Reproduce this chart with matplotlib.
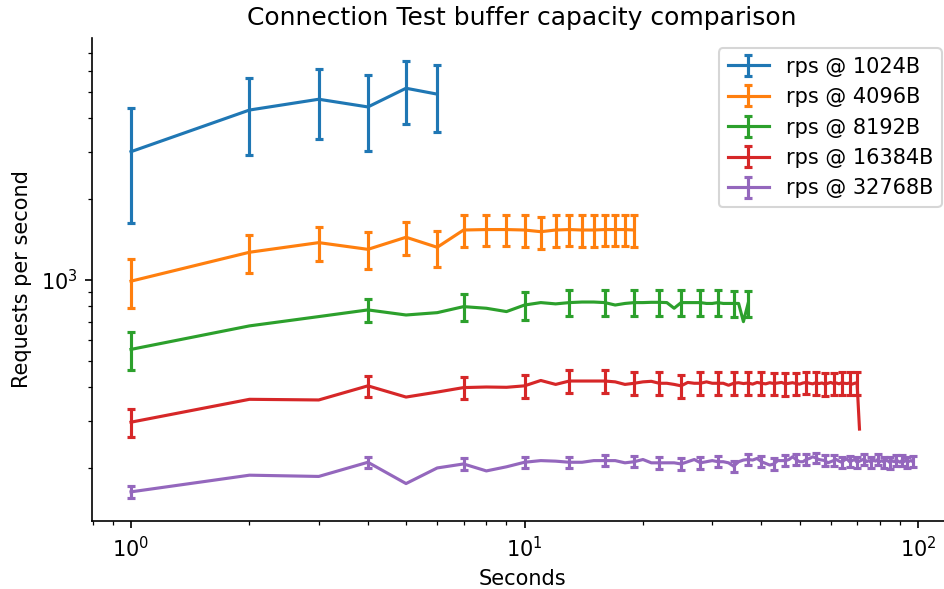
import matplotlib
matplotlib.use("Agg")
import matplotlib.pyplot as plt
import numpy as np

# ---- data ----
labels = ["rps @ 1024B", "rps @ 4096B", "rps @ 8192B", "rps @ 16384B", "rps @ 32768B"]

blue_y = [3000, 4285, 4700, 4400, 5164, 4910]
blue_err = [1375, 1370, 1370, 1370, 1365, 1365]

orange_y = [990, 1268, 1377, 1300, 1442, 1323, 1534, 1540, 1540, 1534, 1512, 1534,
            1540, 1534, 1534, 1540, 1540, 1540, 1534]
orange_err = [205, 203, 200, 202, 200, 203, 207, 207, 207, 207, 207, 207,
              207, 207, 207, 207, 207, 207, 207]

green_y = [552, 675, 731, 774, 741, 756, 796, 785, 763, 807, 824, 815, 824, 828,
           828, 824, 807, 818, 824, 824, 826, 826, 824, 785, 824, 824, 824, 824,
           818, 818, 824, 818, 818, 818, 818, 700, 818]
green_err = [90, 90, 90, 78, 90, 90, 90, 90, 90, 95, 92, 92, 92, 92, 92, 92, 92,
             92, 92, 92, 92, 92, 92, 92, 92, 92, 92, 92, 92, 92, 92, 92, 92, 92,
             92, 92, 92]

red_y = [296, 360, 358, 404, 367, 383, 398, 400, 399, 404, 423, 409, 421, 421,
         421, 421, 418, 409, 413, 418, 420, 413, 413, 409, 404, 416, 413, 413,
         418, 413, 413, 413, 406, 413, 415, 412, 414, 410, 416, 413, 411, 415,
         412, 414, 416, 411, 413, 415, 412, 410, 414, 416, 413, 411, 415, 412,
         414, 410, 413, 416, 412, 414, 411, 415, 413, 412, 414, 410, 413, 415,
         279]
red_err = [35, 37, 37, 37, 37, 37, 38, 38, 38, 39, 40, 40, 40, 40, 40, 40, 40,
           40, 40, 40, 40, 40, 40, 40, 40, 40, 40, 40, 40, 40, 40, 40, 40, 40,
           40, 40, 40, 40, 40, 40, 40, 40, 40, 40, 40, 40, 40, 40, 40, 40, 40,
           40, 40, 40, 40, 40, 40, 40, 40, 40, 40, 40, 40, 40, 40, 40, 40, 40,
           40, 40, 40]

purple_y = [163, 188, 186, 210, 175, 200, 207, 195, 202, 210, 213, 212, 210, 210,
            213, 213, 213, 209, 211, 215, 209, 209, 209, 209, 207, 211, 215, 209,
            211, 213, 211, 211, 209, 203, 211, 214, 215, 214, 217, 211, 208, 205,
            207, 213, 213, 213, 215, 220, 215, 211, 211, 215, 217, 220, 218, 215,
            214, 213, 209, 211, 213, 215, 212, 210, 214, 216, 211, 213, 215, 210,
            212, 214, 216, 211, 213, 210, 214, 212, 215, 211, 213, 210, 214, 212,
            209, 213, 211, 214, 212, 210, 213, 211, 214, 210, 212, 213, 211]
purple_err = [9] + [10] * 96

series = [
    (blue_y, blue_err, 1),
    (orange_y, orange_err, 1),
    (green_y, green_err, 3),
    (red_y, red_err, 3),
    (purple_y, purple_err, 3),
]
colors = ["#1f77b4", "#ff7f0e", "#2ca02c", "#d62728", "#9467bd"]

dpi = 150
fig = plt.figure(figsize=(944 / dpi, 589 / dpi), dpi=dpi)
ax = fig.add_axes([92 / 944, (589 - 521) / 589, (952 - 92) / 944, (521 - 38) / 589])

for (ys, errs, every), lab, col in zip(series, labels, colors):
    xs = np.arange(1, len(ys) + 1)
    ax.errorbar(xs, ys, yerr=errs, errorevery=every, capsize=2, capthick=1.5,
                elinewidth=1.5, lw=1.5, color=col, label=lab)

ax.set_xscale("log")
ax.set_yscale("log")
ax.set_xlim(0.796, 122)
ax.set_ylim(127, 7940)
ax.spines["top"].set_visible(False)
ax.spines["right"].set_visible(False)
ax.set_title("Connection Test buffer capacity comparison")
ax.set_xlabel("Seconds")
ax.set_ylabel("Requests per second")
ax.legend(loc="upper right")

fig.savefig("out.png", dpi=dpi)
